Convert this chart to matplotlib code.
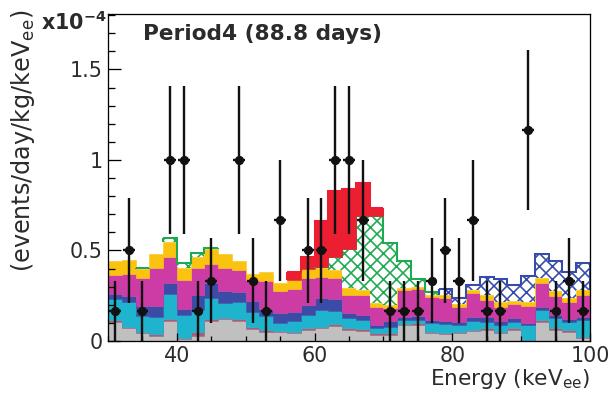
import numpy as np
import matplotlib.pyplot as plt
from matplotlib.ticker import MultipleLocator, FuncFormatter

DPI = 78
plt.rcParams['font.family'] = ['DejaVu Sans']
plt.rcParams['hatch.linewidth'] = 1.5
plt.rcParams['mathtext.fontset'] = 'dejavusans'

# 2 keV bins from 30 to 100 keVee, rates in units of 1e-4 events/day/kg/keVee
edges = np.arange(30, 101, 2)
centers = edges[:-1] + 1

# data (Period4), zero bins are not drawn
rate = [0.167, 0.5, 0.167, 0.0, 1.0, 1.0, 0.167, 0.333, 0.0, 1.0,
        0.333, 0.167, 0.667, 0.0, 0.5, 0.5, 1.0, 1.0, 0.667, 0.0,
        0.167, 0.167, 0.167, 0.333, 0.5, 0.333, 0.667, 0.167, 0.167, 0.0,
        1.167, 0.0, 0.167, 0.333, 0.167]
rate_err = [0.167, 0.289, 0.167, 0.0, 0.408, 0.408, 0.167, 0.236, 0.0, 0.408,
            0.236, 0.167, 0.333, 0.0, 0.289, 0.289, 0.408, 0.408, 0.333, 0.0,
            0.167, 0.167, 0.167, 0.236, 0.289, 0.236, 0.333, 0.167, 0.167, 0.0,
            0.441, 0.0, 0.167, 0.236, 0.167]

# cumulative tops of the stacked background components
gray_top = [.107, .070, .042, .029, .110, .011, .029, .110, .121, .110,
            .066, .051, .048, .042, .061, .070, .085, .061, .055, .035,
            .035, .088, .090, .045, .038, .042, .055, .061, .042, .061,
            .000, .107, .061, .051, .015]
mauve_top = [.116, .079, .051, .037, .120, .018, .051, .120, .129, .120,
             .075, .060, .057, .051, .070, .079, .092, .070, .064, .042,
             .042, .095, .097, .052, .045, .050, .060, .070, .051, .070,
             .005, .116, .070, .060, .024]
cyan_top = [.230, .213, .140, .134, .257, .143, .171, .235, .208, .213,
            .162, .140, .097, .110, .143, .171, .168, .125, .116, .072,
            .080, .115, .115, .100, .095, .090, .110, .103, .088, .107,
            .088, .170, .129, .103, .116]
blue_top = [.257, .248, .195, .195, .318, .176, .254, .318, .276, .272,
            .221, .175, .153, .162, .199, .235, .230, .153, .143, .090,
            .110, .135, .140, .115, .110, .105, .135, .134, .110, .125,
            .100, .190, .143, .121, .134]
magenta_top = [.364, .368, .346, .401, .465, .336, .401, .428, .401, .392,
               .336, .331, .276, .287, .346, .355, .350, .254, .255, .190,
               .185, .280, .285, .245, .240, .190, .265, .226, .189, .202,
               .195, .318, .250, .213, .254]
yellow_top = [.443, .450, .397, .480, .548, .404, .465, .507, .483, .441,
              .368, .379, .322, .336, .400, .404, .390, .290, .280, .210,
              .200, .295, .300, .255, .255, .205, .280, .254, .213, .221,
              .215, .350, .276, .239, .281]
green_top = [.443, .450, .404, .480, .570, .432, .487, .515, .483, .441,
             .368, .379, .322, .336, .400, .410, .465, .510, .690, .690,
             .540, .440, .345, .268, .255, .205, .280, .254, .213, .221,
             .215, .350, .276, .239, .281]
red_top = [.443, .450, .404, .480, .570, .432, .487, .515, .483, .441,
           .368, .379, .322, .380, .465, .664, .830, .840, .870, .737,
           .540, .440, .345, .268, .255, .205, .280, .254, .213, .221,
           .215, .350, .276, .239, .281]
bhatch_top = [.443, .450, .404, .480, .570, .432, .487, .515, .483, .441,
              .368, .379, .322, .380, .465, .664, .830, .840, .870, .737,
              .540, .440, .345, .268, .285, .240, .310, .355, .340, .310,
              .360, .483, .440, .380, .430]

TXT = '#2b2b2b'


def draw_runs(ax, lo, hi, color, hatch=None):
    # draw a stacked component only where it is non-zero, ROOT-style outline
    lo = np.asarray(lo, float)
    hi = np.asarray(hi, float)
    on = hi > lo + 1e-9
    i = 0
    while i < len(on):
        if not on[i]:
            i += 1
            continue
        j = i
        while j < len(on) and on[j]:
            j += 1
        if hatch:
            ax.stairs(hi[i:j], edges[i:j + 1], baseline=lo[i:j], fill=True,
                      facecolor='white', edgecolor=color, hatch=hatch, linewidth=0)
        else:
            ax.stairs(hi[i:j], edges[i:j + 1], baseline=lo[i:j], fill=True,
                      facecolor=color, edgecolor=color, linewidth=0.5)
        ax.stairs(hi[i:j], edges[i:j + 1], baseline=None, color=color, linewidth=1.9)
        ax.vlines([edges[i], edges[j]], [lo[i], lo[j - 1]], [hi[i], hi[j - 1]],
                  color=color, linewidth=1.9)
        i = j


fig = plt.figure(figsize=(609 / DPI, 396 / DPI), dpi=DPI)
ax = fig.add_axes([108 / 609, 55 / 396, 482 / 609, 327 / 396])

layers = [(np.zeros(len(gray_top)), gray_top, '#c0c0c0'),
          (gray_top, mauve_top, '#a3607a'),
          (mauve_top, cyan_top, '#1eb4cd'),
          (cyan_top, blue_top, '#3c4ba5'),
          (blue_top, magenta_top, '#cd3ca5'),
          (magenta_top, yellow_top, '#fac30f')]
for lo, hi, c in layers:
    ax.stairs(hi, edges, baseline=lo, fill=True, facecolor=c, edgecolor=c, linewidth=0.5)

draw_runs(ax, yellow_top, green_top, '#1eaa50', hatch='xx')
draw_runs(ax, green_top, red_top, '#eb1e32')
draw_runs(ax, red_top, bhatch_top, '#374bab', hatch='xx')

r = np.asarray(rate)
e = np.asarray(rate_err)
m = r > 0
ax.errorbar(centers[m], r[m], yerr=e[m], xerr=0.85, fmt='o', color='#111111',
            markersize=7.5, elinewidth=2.2, capsize=0, zorder=5)

ax.set_xlim(30, 100)
ax.set_ylim(0, 1.806)
ax.xaxis.set_major_locator(MultipleLocator(20))
ax.xaxis.set_minor_locator(MultipleLocator(5))
ax.yaxis.set_major_locator(MultipleLocator(0.5))
ax.yaxis.set_minor_locator(MultipleLocator(0.1))
ax.yaxis.set_major_formatter(FuncFormatter(lambda v, p: f'{v:g}'))
ax.tick_params(which='both', direction='in', top=False, right=False,
               width=1.2, labelsize=19, labelcolor=TXT)
ax.tick_params(axis='y', which='major', length=12, pad=5)
ax.tick_params(axis='y', which='minor', length=6.5)
ax.tick_params(axis='x', which='major', length=7.5, pad=5)
ax.tick_params(axis='x', which='minor', length=4.5)
for s in ax.spines.values():
    s.set_linewidth(1.2)

ax.text(0.0726, 0.92, 'Period4 (88.8 days)', transform=ax.transAxes,
        fontsize=20, fontweight='bold', color=TXT, va='baseline')
fig.text(107 / 609, 1 - 30 / 396, r'$\mathbf{x10^{-4}}$', fontsize=19,
         color=TXT, ha='right', va='baseline')
fig.text(590 / 609, 11 / 396, r'Energy (keV$_{\mathrm{ee}}$)', fontsize=20,
         color=TXT, ha='right', va='baseline')
fig.text(23 / 609, 1 - 10 / 396, r'(events/day/kg/keV$_{\mathrm{ee}}$)', fontsize=22,
         color=TXT, ha='center', va='top', rotation=90)

fig.savefig('out.png', dpi=DPI)
